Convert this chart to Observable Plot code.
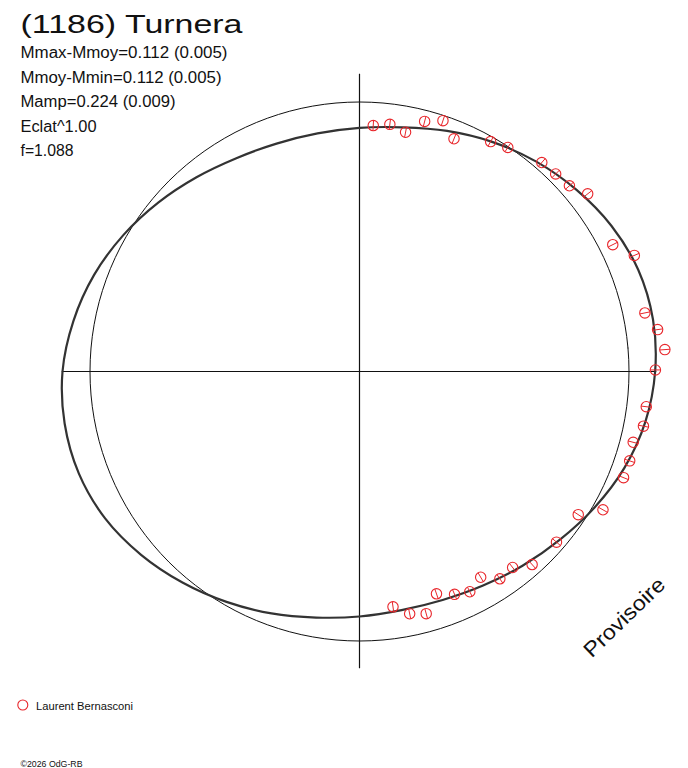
<!DOCTYPE html>
<html>
<head>
<meta charset="utf-8">
<script src="https://cdn.jsdelivr.net/npm/d3@7"></script>
<script src="https://cdn.jsdelivr.net/npm/@observablehq/plot@0.6"></script>
<style>
  body { margin: 0; background: white; }
  #chart { width: 688px; height: 768px; }
</style>
</head>
<body>
<div id="chart"></div>
<script>
// polar light curve: angle (deg) and flux relative to the mean (circle = 1)
const curveAngle = [0, 10, 20, 30, 40, 50, 60, 70, 80, 90, 100, 110, 120, 130, 140, 150, 160, 170,
  180, 190, 200, 210, 220, 230, 240, 250, 260, 270, 280, 290, 300, 310, 320, 330, 340, 350]
const curveFlux = [1.097, 1.106, 1.101, 1.080, 1.050, 1.018, 0.984, 0.950, 0.920, 0.904, 0.897, 0.900,
  0.914, 0.941, 0.975, 1.012, 1.048, 1.078, 1.102, 1.111, 1.108, 1.090, 1.058, 1.022,
  0.987, 0.955, 0.927, 0.909, 0.899, 0.902, 0.917, 0.941, 0.971, 1.008, 1.046, 1.077]

// observations (Laurent Bernasconi)
const pointAngle = [86.8, 83.0, 79.1, 75.4, 71.6, 67.9, 60.3, 56.5, 48.9, 45.2, 41.5, 37.9,
  26.6, 22.9, 11.6, 8.0, 4.1, 0.3, -7.0, -10.9, -14.5, -18.3, -21.9, -29.6,
  -33.2, -40.9, -48.2, -52.0, -55.9, -59.5, -63.4, -66.9, -70.9, -74.6, -78.3, -81.9]
const pointFlux = [0.914, 0.924, 0.904, 0.959, 0.981, 0.932, 0.982, 0.997, 1.029, 1.033, 1.040, 1.073,
  1.051, 1.107, 1.081, 1.117, 1.136, 1.098, 1.072, 1.073, 1.049, 1.056, 1.056, 1.039,
  0.970, 0.967, 0.961, 0.923, 0.929, 0.886, 0.914, 0.899, 0.873, 0.932, 0.918, 0.882]
const pointErr = 0.019

const titleText = "(1186) Turnera"
const infoLines = ["Mmax-Mmoy=0.112 (0.005)", "Mmoy-Mmin=0.112 (0.005)", "Mamp=0.224 (0.009)", "Eclat^1.00", "f=1.088"]
const observer = "Laurent Bernasconi"
const copyright = "©2026 OdG-RB"
const stamp = "Provisoire"

const red = "#e8262b"
const lim = 300 / 269.5
const axisExt = 1.103

const rad = Math.PI / 180
const toXY = (a, r) => ({x: r * Math.cos(a * rad), y: r * Math.sin(a * rad)})

const curve = curveAngle.map((a, i) => toXY(a, curveFlux[i]))
const refCircle = d3.range(0, 360, 5).map(a => toXY(a, 1))
const points = pointAngle.map((a, i) => ({
  ...toXY(a, pointFlux[i]),
  lo: toXY(a, pointFlux[i] - pointErr),
  hi: toXY(a, pointFlux[i] + pointErr)
}))

const infoDy = [-14, 11, 35.5, 60, 84.5]
const textLengths = {
  [titleText]: 222,
  [infoLines[0]]: 207, [infoLines[1]]: 201, [infoLines[2]]: 155, [infoLines[3]]: 76, [infoLines[4]]: 53,
  [observer]: 97, [copyright]: 62, [stamp]: 104
}

const chart = Plot.plot({
  width: 688,
  height: 768,
  marginLeft: 59,
  marginRight: 29,
  marginTop: 71,
  marginBottom: 97,
  x: {domain: [-lim, lim], axis: null},
  y: {domain: [-lim, lim], axis: null},
  style: {fontFamily: "'Liberation Sans', Arial, sans-serif", background: "white", color: "#111"},
  marks: [
    Plot.ruleX([0], {y1: -axisExt, y2: axisExt, stroke: "#111", strokeWidth: 1.2}),
    Plot.ruleY([0], {x1: -axisExt, x2: axisExt, stroke: "#111", strokeWidth: 1.2}),
    Plot.line(refCircle, {x: "x", y: "y", curve: "catmull-rom-closed", stroke: "#111", strokeWidth: 1}),
    Plot.line(curve, {x: "x", y: "y", curve: "catmull-rom-closed", stroke: "#333", strokeWidth: 2.2}),
    Plot.link(points, {x1: d => d.lo.x, y1: d => d.lo.y, x2: d => d.hi.x, y2: d => d.hi.y, stroke: red, strokeWidth: 1}),
    Plot.dot(points, {x: "x", y: "y", r: 5.2, stroke: red, strokeWidth: 1.1}),
    Plot.text([titleText], {frameAnchor: "top-left", textAnchor: "start", lineAnchor: "bottom", dx: -39, dy: -39, fontSize: 25, fill: "#111"}),
    infoLines.map((t, i) =>
      Plot.text([t], {frameAnchor: "top-left", textAnchor: "start", lineAnchor: "bottom", dx: -39, dy: infoDy[i], fontSize: 16, fill: "#111"})),
    Plot.dot([0], {frameAnchor: "bottom-left", dx: -36.7, dy: 33.5, r: 5, stroke: red, strokeWidth: 1.1}),
    Plot.text([observer], {frameAnchor: "bottom-left", textAnchor: "start", lineAnchor: "bottom", dx: -23.5, dy: 38.5, fontSize: 10, fill: "#111"}),
    Plot.text([copyright], {frameAnchor: "bottom-left", textAnchor: "start", lineAnchor: "bottom", dx: -39, dy: 95.5, fontSize: 9.5, fill: "#111"}),
    Plot.text([stamp], {frameAnchor: "bottom-right", textAnchor: "middle", lineAnchor: "middle", rotate: -44, dx: -35, dy: -54, fontSize: 21, fill: "#111"})
  ]
})

d3.select(chart).selectAll("text").each(function () {
  const w = textLengths[this.textContent]
  if (w) {
    this.setAttribute("textLength", w)
    this.setAttribute("lengthAdjust", "spacingAndGlyphs")
  }
})

d3.select('#chart').append(() => chart)
</script>
</body>
</html>
